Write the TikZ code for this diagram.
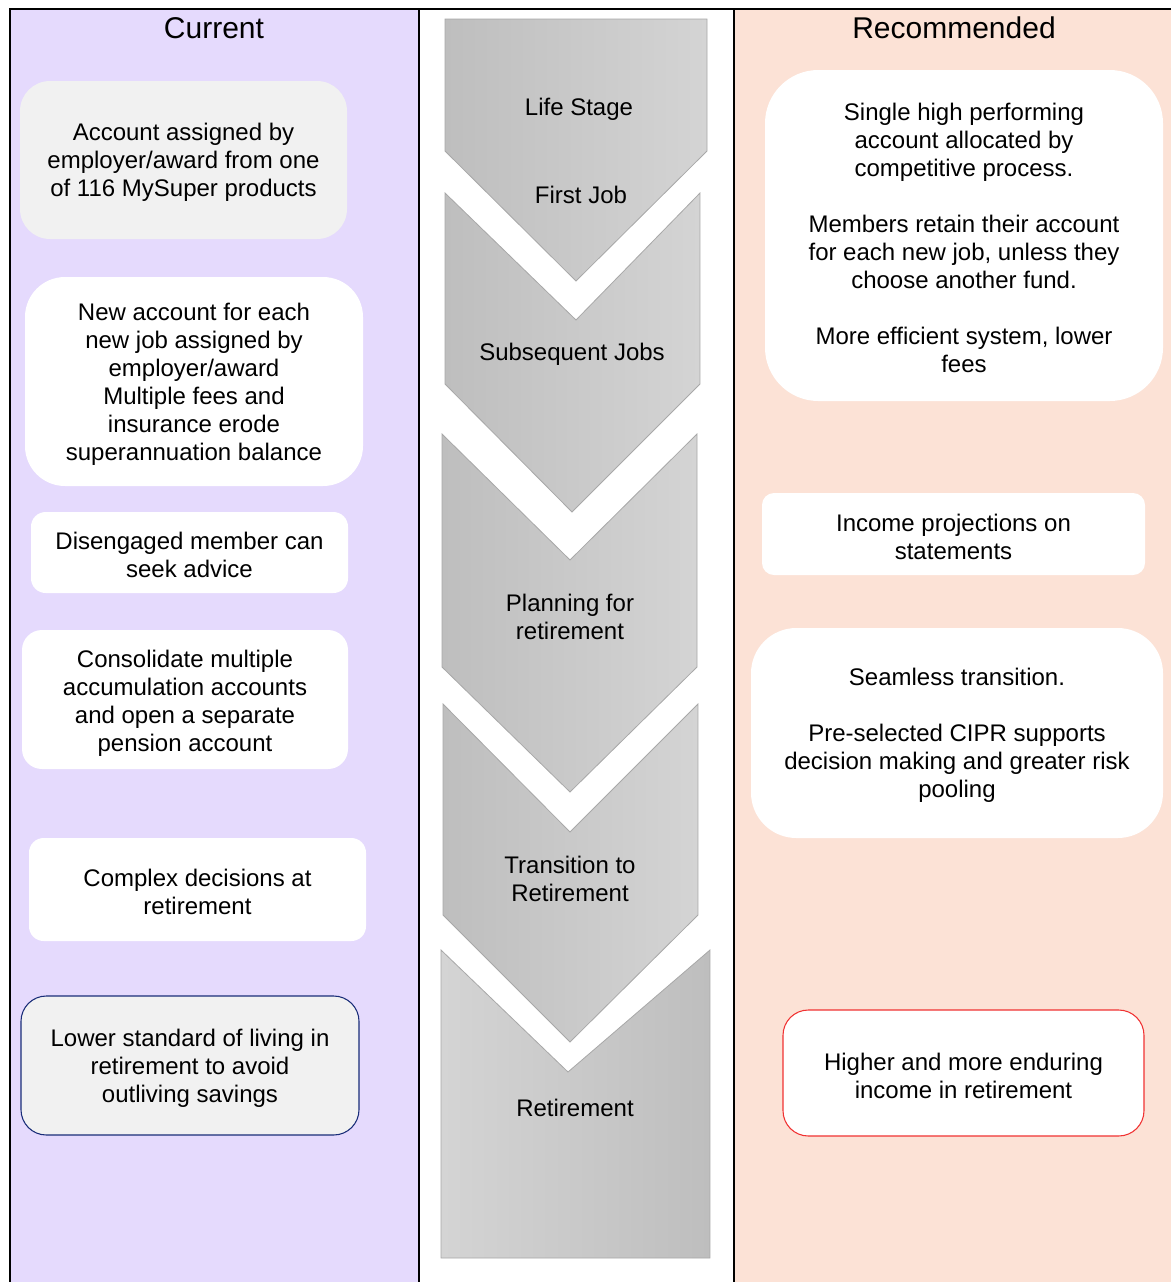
\documentclass[tikz,border=0pt]{standalone}
\usepackage{fontspec}
\setmainfont{Liberation Sans}
\definecolor{lav}{RGB}{229,218,253}
\definecolor{peach}{RGB}{252,226,214}
\definecolor{boxgray}{RGB}{241,241,241}
\definecolor{navy}{RGB}{25,45,120}
\definecolor{redline}{RGB}{240,50,50}
\definecolor{chevdark}{RGB}{190,190,190}
\definecolor{chevlight}{RGB}{212,212,212}
\definecolor{chevline}{RGB}{168,168,168}
\begin{document}
\begin{tikzpicture}[x=0.75pt,y=-0.75pt,
  body/.style={font=\fontsize{18}{21}\selectfont, align=center, inner sep=0pt, yshift=-2pt},
  head/.style={font=\fontsize{22.5}{26}\selectfont, inner sep=0pt},
  card/.style={inner sep=0pt, rounded corners=#1},
  chev/.style={draw=chevline, line width=0.6pt},
  colline/.style={draw=black, line width=2.2pt}]
\useasboundingbox (0,0) rectangle (1171,1282);
\clip (0,0) rectangle (1171,1282);
\fill[white] (0,0) rectangle (1171,1282);
% columns
\path[colline, fill=lav] (10,9) rectangle (419,1300);
\path[colline, fill=white] (419,9) rectangle (734,1300);
\path[colline, fill=peach] (734,9) rectangle (1190,1300);
\node[head] (hcur) at (214,28) {Current};
\node[head] (hrec) at (954,28) {Recommended};
% chevrons
\path[chev, left color=chevdark, right color=chevlight]
  (445,19) -- (707,19) -- (707,151) -- (576,281) -- (445,151) -- cycle;
\path[chev, left color=chevdark, right color=chevlight]
  (445,193) -- (576,320) -- (700,193) -- (700,384) -- (572,512) -- (445,384) -- cycle;
\path[chev, left color=chevdark, right color=chevlight]
  (442,434) -- (570,560) -- (697,434) -- (697,667) -- (570,792) -- (442,667) -- cycle;
\path[chev, left color=chevdark, right color=chevlight]
  (443,704) -- (570,832) -- (698,704) -- (698,915) -- (570,1042) -- (443,915) -- cycle;
\path[chev, left color=chevlight, right color=chevdark]
  (441,950) -- (568,1072) -- (710,950) -- (710,1258) -- (441,1258) -- cycle;
\node[body] (s0) at (579,107) {Life Stage};
\node[body] (s1) at (581,192) {First Job};
\node[body] (s2) at (572,352) {Subsequent Jobs};
\node[body] (s3) at (570,614) {Planning for\\retirement};
\node[body] (s4) at (570,876) {Transition to\\Retirement};
\node[body] (s5) at (575,1105) {Retirement};
% current column
\node[card=22.5pt, fill=boxgray, minimum width={327*0.75pt}, minimum height={158*0.75pt}] (c1) at (183.5,160) {};
\node[body] (t1) at (c1.center) {Account assigned by\\employer/award from one\\of 116 MySuper products};
\node[card=30pt, fill=white, minimum width={338*0.75pt}, minimum height={209*0.75pt}] (c2) at (194,381.5) {};
\node[body] (t2) at (c2.center) {New account for each\\new job assigned by\\employer/award\\Multiple fees and\\insurance erode\\superannuation balance};
\node[card=11pt, fill=white, minimum width={317*0.75pt}, minimum height={81*0.75pt}] (c3) at (189.5,552.5) {};
\node[body] (t3) at (c3.center) {Disengaged member can\\seek advice};
\node[card=15pt, fill=white, minimum width={326*0.75pt}, minimum height={139*0.75pt}] (c4) at (185,699.5) {};
\node[body] (t4) at ([yshift=-1pt]c4.center) {Consolidate multiple\\accumulation accounts\\and open a separate\\pension account};
\node[card=11pt, fill=white, minimum width={337*0.75pt}, minimum height={103*0.75pt}] (c5) at (197.5,889.5) {};
\node[body] (t5) at (c5.center) {Complex decisions at\\retirement};
\node[card=19pt, fill=boxgray, draw=navy, line width=0.8pt, minimum width={338*0.75pt}, minimum height={139*0.75pt}] (c6) at (190,1065.5) {};
\node[body] (t6) at (c6.center) {Lower standard of living in\\retirement to avoid\\outliving savings};
% recommended column
\node[card=40pt, fill=white, minimum width={398*0.75pt}, minimum height={331*0.75pt}] (r1) at (964,235.5) {};
\node[body] (u1) at (r1.center) {Single high performing\\account allocated by\\competitive process.\\[21pt]Members retain their account\\for each new job, unless they\\choose another fund.\\[21pt]More efficient system, lower\\fees};
\node[card=9pt, fill=white, minimum width={383*0.75pt}, minimum height={82*0.75pt}] (r2) at (953.5,534) {};
\node[body] (u2) at (r2.center) {Income projections on\\statements};
\node[card=34pt, fill=white, minimum width={412*0.75pt}, minimum height={210*0.75pt}] (r3) at (957,733) {};
\node[body] (u3) at (r3.center) {Seamless transition.\\[21pt]Pre-selected CIPR supports\\decision making and greater risk\\pooling};
\node[card=19pt, fill=white, draw=redline, line width=0.8pt, minimum width={361*0.75pt}, minimum height={126*0.75pt}] (r4) at (963.5,1073) {};
\node[body] (u4) at (r4.center) {Higher and more enduring\\income in retirement};
\end{tikzpicture}
\end{document}
